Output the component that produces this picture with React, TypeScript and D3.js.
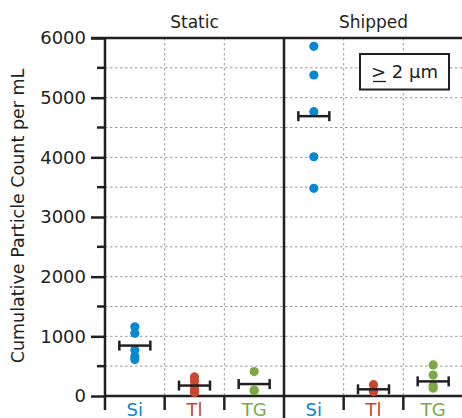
import React, { useRef, useEffect } from "react";
import * as d3 from "d3";

const panels = ["Static", "Shipped"];
const categories = ["Si", "Tl", "TG"];
const catColors = ["#0a87d2", "#c8472f", "#7ba945"];

// individual measurements per panel / category
const staticSi = [1160, 1050, 770, 660, 610];
const staticTl = [320, 250, 170, 100, 60];
const staticTG = [410, 100, 90];
const shippedSi = [5860, 5380, 4765, 4010, 3480];
const shippedTl = [190, 100, 80, 75];
const shippedTG = [520, 350, 170, 130];

// mean markers
const staticMeans = [845, 175, 200];
const shippedMeans = [4690, 112, 245];

const yTicks = [0, 1000, 2000, 3000, 4000, 5000, 6000];
const legendText = "2 µm";

const W = 462;
const H = 418;
const left = 105;
const right = 463;
const top = 38;
const bottom = 396;
const font = "'DejaVu Sans', sans-serif";
const ink = "#231f20";

export default function App() {
  const axisRef = useRef<SVGGElement>(null);

  const keys = panels.flatMap((p) => categories.map((c) => p + "-" + c));
  const x = d3.scaleBand().domain(keys).range([left, right]);
  const y = d3.scaleLinear().domain([0, 6000]).range([bottom, top]);

  const groups = [
    { panel: "Static", cat: "Si", values: staticSi, mean: staticMeans[0] },
    { panel: "Static", cat: "Tl", values: staticTl, mean: staticMeans[1] },
    { panel: "Static", cat: "TG", values: staticTG, mean: staticMeans[2] },
    { panel: "Shipped", cat: "Si", values: shippedSi, mean: shippedMeans[0] },
    { panel: "Shipped", cat: "Tl", values: shippedTl, mean: shippedMeans[1] },
    { panel: "Shipped", cat: "TG", values: shippedTG, mean: shippedMeans[2] },
  ];

  const minorTicks = d3.range(500, 6000, 500);

  useEffect(() => {
    const g = d3.select(axisRef.current);
    g.selectAll("*").remove();
    const axis = d3
      .axisLeft(y)
      .tickValues(yTicks)
      .tickFormat(d3.format("d"))
      .tickSize(14)
      .tickPadding(5);
    g.call(axis);
    g.attr("font-size", 18).attr("font-family", font);
    g.select(".domain").remove();
    g.selectAll(".tick line").attr("stroke", ink).attr("stroke-width", 2.5);
    g.selectAll(".tick text").attr("fill", ink);
  }, []);

  return (
    <svg width={W} height={H} style={{ position: "absolute", left: 0, top: 0 }}>
      <rect width={W} height={H} fill="white" />
      {/* dotted grid */}
      {minorTicks.map((v) => (
        <line key={"h" + v} x1={left} x2={right} y1={y(v)} y2={y(v)}
          stroke="#9a9a9a" strokeWidth={1} strokeDasharray="2.5,2.5" />
      ))}
      {keys.map((k, i) =>
        i % 3 !== 0 ? (
          <line key={"v" + k} x1={x(k)} x2={x(k)} y1={top} y2={bottom}
            stroke="#9a9a9a" strokeWidth={1} strokeDasharray="2.5,2.5" />
        ) : null
      )}
      {/* minor ticks */}
      {minorTicks.filter((v) => v % 1000 !== 0).map((v) => (
        <line key={"m" + v} x1={left - 8} x2={left} y1={y(v)} y2={y(v)}
          stroke={ink} strokeWidth={2.5} />
      ))}
      <g ref={axisRef} transform={`translate(${left},0)`} />
      {/* frame */}
      <line x1={left - 14} x2={right} y1={top} y2={top} stroke={ink} strokeWidth={2.5} />
      <line x1={left} x2={right} y1={bottom} y2={bottom} stroke={ink} strokeWidth={2.5} />
      <line x1={left} x2={left} y1={top} y2={410} stroke={ink} strokeWidth={2.5} />
      <line x1={x("Shipped-Si")} x2={x("Shipped-Si")} y1={top} y2={H} stroke={ink} strokeWidth={2.5} />
      {keys.map((k, i) =>
        i % 3 !== 0 ? (
          <line key={"bt" + k} x1={x(k)} x2={x(k)} y1={bottom} y2={410}
            stroke={ink} strokeWidth={2.5} />
        ) : null
      )}
      {/* panel headers */}
      {panels.map((p) => (
        <text key={p} x={(x(p + "-Si")! + x(p + "-TG")! + x.bandwidth()) / 2} y={28}
          textAnchor="middle" fontSize={17} fontFamily={font} fill={ink}>{p}</text>
      ))}
      {/* category labels */}
      {keys.map((k) => {
        const c = k.split("-")[1];
        return (
          <text key={"c" + k} x={x(k)! + x.bandwidth() / 2} y={416} textAnchor="middle"
            fontSize={18} fontFamily={font} fill={catColors[categories.indexOf(c)]}>{c}</text>
        );
      })}
      {/* points and means */}
      {groups.map((g) => {
        const cx = x(g.panel + "-" + g.cat)! + x.bandwidth() / 2;
        const col = catColors[categories.indexOf(g.cat)];
        const my = y(g.mean);
        return (
          <g key={g.panel + g.cat}>
            {g.values.map((v, i) => (
              <circle key={i} cx={cx} cy={y(v)} r={4.6} fill={col} />
            ))}
            <line x1={cx - 15.5} x2={cx + 15.5} y1={my} y2={my} stroke={ink} strokeWidth={2.5} />
            <line x1={cx - 15.5} x2={cx - 15.5} y1={my - 5} y2={my + 5} stroke={ink} strokeWidth={2.5} />
            <line x1={cx + 15.5} x2={cx + 15.5} y1={my - 5} y2={my + 5} stroke={ink} strokeWidth={2.5} />
          </g>
        );
      })}
      {/* y label */}
      <text transform="translate(24,216) rotate(-90)" textAnchor="middle"
        fontSize={17.5} fontFamily={font} fill={ink}>Cumulative Particle Count per mL</text>
      {/* legend */}
      <rect x={360} y={54} width={89} height={35.5} fill="white" stroke={ink} strokeWidth={2} />
      <text x={404.5} y={78} textAnchor="middle" fontSize={18} fontFamily={font} fill={ink}>
        {"> " + legendText}
      </text>
      <line x1={373} x2={386} y1={81.5} y2={81.5} stroke={ink} strokeWidth={1.3} />
    </svg>
  );
}
